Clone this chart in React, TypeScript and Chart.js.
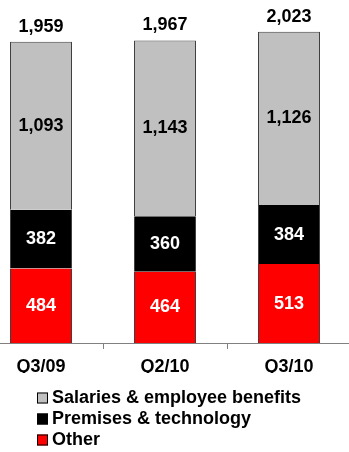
import { useEffect, useRef } from "react";
import { Chart, registerables } from "chart.js";

Chart.register(...registerables);

// Quarterly non-interest expenses, stacked by component
const quarters = ["Q3/09", "Q2/10", "Q3/10"];
const other = [484, 464, 513];
const premises = [382, 360, 384];
const salaries = [1093, 1143, 1126];
const seriesNames = ["Other", "Premises & technology", "Salaries & employee benefits"];
const seriesColors = ["#FF0000", "#000000", "#C0C0C0"];
const labelColors = ["#FFFFFF", "#FFFFFF", "#000000"];

const FONT = '"Liberation Sans", Arial, sans-serif';
const fmt = (v: number) => v.toLocaleString("en-US");

// Canvas is wider than the view so the category band runs past both edges
const CANVAS_W = 372;
const CANVAS_H = 452;
const SHIFT_X = -21;

const valueLabels = {
  id: "valueLabels",
  afterDatasetsDraw(chart: any) {
    const ctx = chart.ctx;
    ctx.save();
    ctx.font = `bold 18px ${FONT}`;
    ctx.textAlign = "center";
    ctx.textBaseline = "middle";
    chart.data.datasets.forEach((ds: any, i: number) => {
      const meta = chart.getDatasetMeta(i);
      meta.data.forEach((bar: any, j: number) => {
        const { x, y, base } = bar.getProps(["x", "y", "base"], true);
        ctx.fillStyle = labelColors[i];
        ctx.fillText(fmt(ds.data[j]), x, (y + base) / 2);
      });
    });
    const last = chart.data.datasets.length - 1;
    const topMeta = chart.getDatasetMeta(last);
    topMeta.data.forEach((bar: any, j: number) => {
      const total = chart.data.datasets.reduce((s: number, ds: any) => s + ds.data[j], 0);
      ctx.fillStyle = "#000000";
      ctx.fillText(fmt(total), bar.x, bar.y - 15);
    });
    ctx.restore();
  },
};

// Vertical legend under the axis, top series first
const stackLegend = {
  id: "stackLegend",
  afterDraw(chart: any) {
    const ctx = chart.ctx;
    ctx.save();
    ctx.font = `bold 18px ${FONT}`;
    ctx.textAlign = "left";
    ctx.textBaseline = "middle";
    const boxX = 58;
    const textX = 73;
    const startY = 398;
    const rowH = 21;
    const items = chart.data.datasets.map((ds: any) => ds).reverse();
    items.forEach((ds: any, k: number) => {
      const cy = startY + k * rowH;
      ctx.fillStyle = ds.backgroundColor;
      ctx.fillRect(boxX, cy - 5.5, 11, 11);
      ctx.strokeStyle = "#000000";
      ctx.lineWidth = 1;
      ctx.strokeRect(boxX + 0.5, cy - 5, 10, 10);
      ctx.fillStyle = "#000000";
      ctx.fillText(ds.label, textX, cy);
    });
    ctx.restore();
  },
};

export default function App() {
  const canvasRef = useRef<HTMLCanvasElement | null>(null);

  useEffect(() => {
    if (!canvasRef.current) return;
    const series = [other, premises, salaries];
    const last = series.length - 1;
    const chart = new Chart(canvasRef.current, {
      type: "bar",
      data: {
        labels: quarters,
        datasets: series.map((values, i) => ({
          label: seriesNames[i],
          data: values,
          backgroundColor: seriesColors[i],
          borderColor: "#404040",
          // side edges on every segment, a top edge only on the stack's cap
          borderWidth: { left: 1, right: 1, bottom: 0, top: i === last ? 1 : 0 },
          borderSkipped: false,
          categoryPercentage: 1,
          barPercentage: 0.5,
        })),
      },
      options: {
        responsive: false,
        animation: false,
        devicePixelRatio: 1,
        layout: { padding: { top: 0, left: 0, right: 0, bottom: 79 } },
        plugins: {
          legend: { display: false },
          tooltip: { enabled: false },
        },
        scales: {
          x: {
            stacked: true,
            offset: true,
            afterFit: (scale: any) => {
              scale.height = 30;
            },
            grid: {
              offset: true,
              drawOnChartArea: false,
              drawTicks: true,
              tickLength: 6,
              color: "#808080",
              lineWidth: 1,
            },
            border: { display: true, color: "#808080", width: 1 },
            ticks: {
              color: "#000000",
              padding: 7,
              font: { family: FONT, size: 18, weight: "bold" },
              maxRotation: 0,
            },
          },
          y: {
            stacked: true,
            display: false,
            min: 0,
            max: 2230,
          },
        },
      },
      plugins: [valueLabels, stackLegend],
    });
    return () => chart.destroy();
  }, []);

  return (
    <div
      style={{
        position: "fixed",
        left: 0,
        top: 0,
        width: 349,
        height: 452,
        overflow: "hidden",
        background: "#FFFFFF",
      }}
    >
      <canvas
        ref={canvasRef}
        width={CANVAS_W}
        height={CANVAS_H}
        style={{ position: "absolute", left: SHIFT_X, top: 0, width: CANVAS_W, height: CANVAS_H }}
      />
    </div>
  );
}
